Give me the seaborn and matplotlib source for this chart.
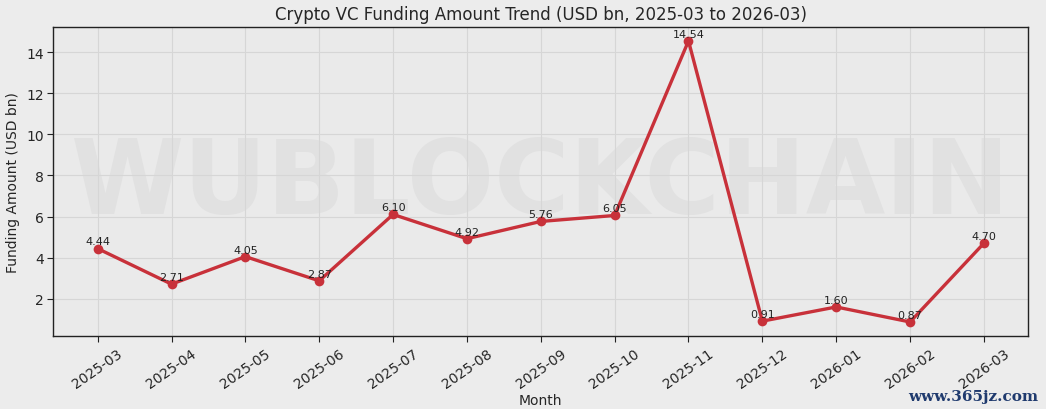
import matplotlib
matplotlib.use("Agg")
import matplotlib.pyplot as plt
import seaborn as sns
import pandas as pd

months = ["2025-03", "2025-04", "2025-05", "2025-06", "2025-07", "2025-08", "2025-09",
          "2025-10", "2025-11", "2025-12", "2026-01", "2026-02", "2026-03"]
funding = [4.44, 2.71, 4.05, 2.87, 6.10, 4.92, 5.76, 6.05, 14.54, 0.91, 1.60, 0.87, 4.70]

df = pd.DataFrame({"month": months, "funding": funding})

sns.set_style("whitegrid", {
    "axes.facecolor": "#eaeaea",
    "figure.facecolor": "#ececec",
    "axes.edgecolor": "#222222",
    "grid.color": "#d6d6d6",
    "xtick.bottom": True,
    "ytick.left": True,
})
plt.rcParams['font.family'] = ['DejaVu Sans']

fig, ax = plt.subplots(figsize=(10.46, 4.10), dpi=100)
fig.subplots_adjust(left=0.051, right=0.983, top=0.932, bottom=0.178)

# faint watermark behind the data
ax.text(0.5, 0.49, "WUBLOCKCHAIN", transform=ax.transAxes, ha="center", va="center",
        fontsize=74, fontweight="bold", color="#e1e1e1", zorder=0, clip_on=True)

x = list(range(len(months)))
sns.lineplot(x=x, y=df["funding"], ax=ax, color="#c8313a", linewidth=2.4,
             marker="o", markersize=7, markeredgewidth=0, zorder=3)

for i, v in enumerate(funding):
    ax.annotate(f"{v:.2f}", (i, v), xytext=(0, 1.5), textcoords="offset points",
                ha="center", va="bottom", fontsize=8, color="#222222", zorder=4)

ax.set_xticks(x)
ax.set_xticklabels(months, rotation=35, ha="center")
ax.tick_params(axis="both", labelsize=10, length=4, color="#222222", pad=3)
for s in ax.spines.values():
    s.set_linewidth(1.0)
ax.grid(True, linewidth=0.8)

ax.set_title("Crypto VC Funding Amount Trend (USD bn, 2025-03 to 2026-03)", fontsize=12)
ax.set_xlabel("Month", fontsize=10, labelpad=2)
ax.set_ylabel("Funding Amount (USD bn)", fontsize=10)

fig.text(0.993, 0.015, "www.365jz.com", ha="right", va="bottom", fontsize=11,
         family="DejaVu Serif", color="#1f3a6e", fontweight="bold")

fig.savefig("out.png", dpi=100)
